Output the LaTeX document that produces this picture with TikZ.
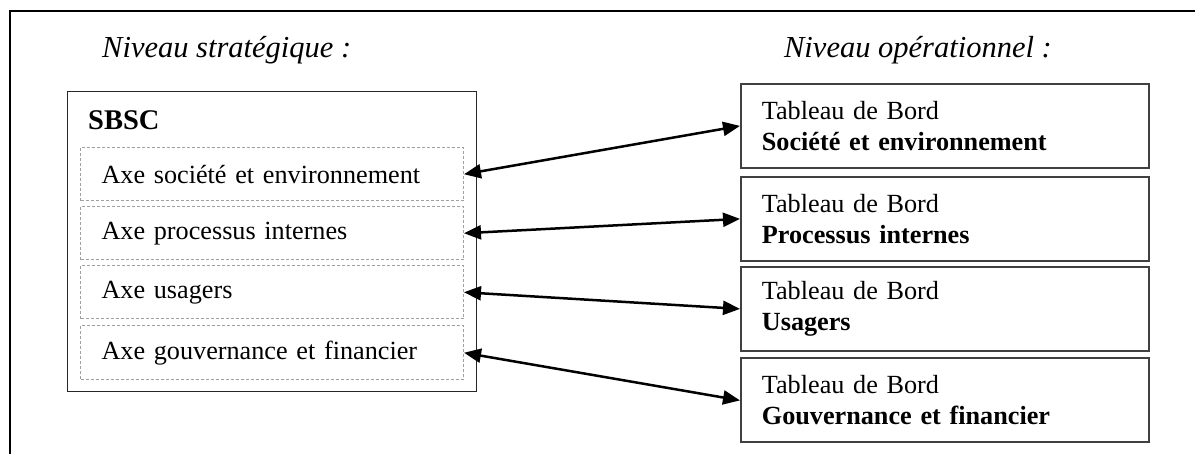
\documentclass[tikz,border=0pt]{standalone}
\usepackage{fontspec}
\setmainfont{Liberation Serif}
\usetikzlibrary{arrows.meta}
\definecolor{dashgray}{HTML}{A0A0A0}
\definecolor{boxgray}{HTML}{404040}
\tikzset{
  body/.style={font=\fontsize{26.2}{31}\selectfont},
  title/.style={font=\fontsize{30.5}{36}\selectfont\itshape, inner sep=0pt},
  axebox/.style={draw=dashgray, line width=1pt, dash pattern=on 3pt off 2pt,
    minimum width=383pt, minimum height=53.5pt, anchor=north west,
    inner xsep=21pt, inner ysep=0pt, text width=341pt, align=left, body},
  tbbox/.style={draw=boxgray, line width=1.8pt, minimum width=408pt, minimum height=84pt,
    anchor=north west, inner xsep=21pt, inner ysep=0pt, text width=366pt, align=left, body},
  link/.style={line width=2.5pt, {Triangle[length=17pt,width=14pt]}-{Triangle[length=17pt,width=14pt]}}
}
\begin{document}
\begin{tikzpicture}[x=1pt, y=-1pt]
\useasboundingbox (0,0) rectangle (1195,454);
% outer frame (left and top visible)
\draw[line width=1.6pt] (10,460) -- (10,11) -- (1200,11);
% titles
\node[title, anchor=base west] (tstrat) at (102,58) {Niveau stratégique :};
\node[title, anchor=base east] (toper) at (1052,58) {Niveau opérationnel :};
% SBSC container
\node[draw=black!85, line width=1.4pt, minimum width=408.6pt, minimum height=300pt, anchor=north west, inner sep=0pt] (sbsc) at (67,91) {};
\node[anchor=base west, inner sep=0pt, font=\fontsize{28.5}{34}\selectfont\bfseries] (sbsct) at (88,130) {SBSC};
% axes
\node[axebox] (l1) at (80,147) {Axe société et environnement};
\node[axebox] (l2) at (80,206) {Axe processus internes};
\node[axebox] (l3) at (80,265) {Axe usagers};
\node[axebox] (l4) at (80,325.5) {Axe gouvernance et financier};
% tableaux de bord
\node[tbbox] (r1) at (740,83) {Tableau de Bord\\\textbf{Société et environnement}};
\node[tbbox] (r2) at (740,176) {Tableau de Bord\\\textbf{Processus internes}};
\node[tbbox] (r3) at (740,266) {Tableau de Bord\\\textbf{Usagers}};
\node[tbbox] (r4) at (740,357.5) {Tableau de Bord\\\textbf{Gouvernance et financier}};
% links
\draw[link] (l1.east) -- (r1.west);
\draw[link] (l2.east) -- (r2.west);
\draw[link] (l3.east) -- (r3.west);
\draw[link] (l4.east) -- (r4.west);
\end{tikzpicture}
\end{document}
